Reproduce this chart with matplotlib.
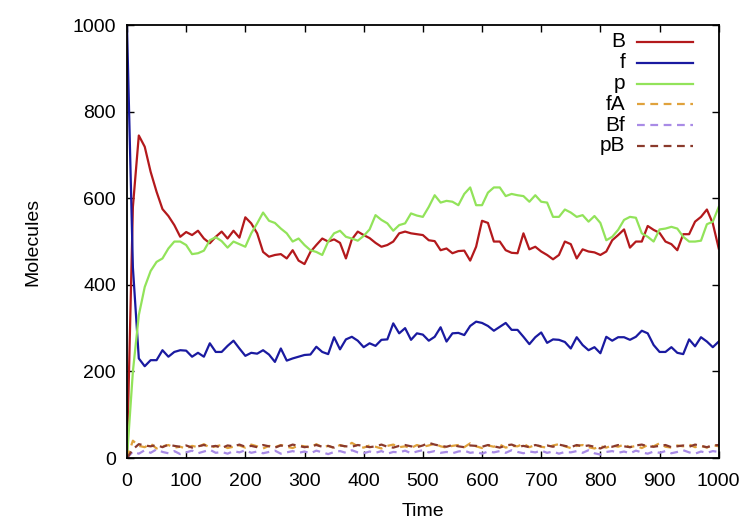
import matplotlib
matplotlib.use("Agg")
import matplotlib.pyplot as plt

plt.rcParams['font.family'] = ['Liberation Sans', 'DejaVu Sans']

# time axis (samples every 10 time units)
time = list(range(0, 1001, 10))

B = [0, 580, 745, 719, 661, 615, 575, 559, 538, 511,
     522, 515, 525, 507, 496, 511, 523, 507, 525, 509,
     556, 542, 519, 476, 465, 469, 471, 461, 480, 456,
     448, 476, 492, 507, 500, 505, 497, 461, 505, 523,
     515, 508, 497, 488, 492, 500, 519, 523, 519, 517,
     515, 503, 501, 480, 484, 473, 478, 479, 456, 488,
     548, 543, 500, 500, 480, 474, 473, 519, 482, 488,
     477, 469, 459, 469, 500, 494, 461, 482, 477, 475,
     469, 477, 503, 515, 528, 486, 500, 500, 536, 527,
     520, 500, 494, 480, 517, 517, 546, 557, 574, 542,
     484]

f = [1000, 440, 230, 212, 226, 226, 249, 234, 245, 249,
     248, 234, 243, 234, 265, 245, 245, 259, 271, 253,
     236, 243, 241, 249, 239, 222, 253, 225, 230, 234,
     238, 239, 257, 245, 240, 279, 251, 274, 280, 271,
     256, 265, 259, 273, 274, 311, 288, 300, 273, 288,
     285, 271, 280, 302, 269, 288, 289, 284, 305, 315,
     312, 305, 294, 303, 312, 296, 296, 280, 263, 279,
     290, 266, 274, 273, 268, 253, 279, 261, 249, 256,
     242, 280, 271, 279, 279, 273, 280, 294, 288, 261,
     245, 245, 256, 243, 240, 274, 258, 279, 269, 256,
     269]

p = [0, 200, 330, 395, 432, 453, 461, 484, 500, 500,
     492, 471, 473, 479, 503, 510, 501, 486, 500, 494,
     488, 519, 542, 567, 548, 543, 530, 519, 500, 507,
     492, 480, 476, 469, 500, 519, 525, 511, 507, 502,
     513, 528, 561, 550, 542, 525, 538, 542, 565, 560,
     557, 580, 607, 590, 594, 592, 584, 610, 625, 584,
     584, 613, 625, 625, 605, 610, 607, 605, 592, 607,
     592, 590, 557, 557, 574, 567, 557, 561, 546, 559,
     543, 503, 511, 527, 550, 557, 555, 519, 511, 500,
     528, 530, 534, 530, 511, 500, 500, 502, 540, 546,
     580]

fA = [0, 40, 28, 25, 33, 22, 27, 30, 24, 26,
      22, 28, 25, 32, 24, 27, 30, 23, 26, 29,
      24, 31, 27, 22, 28, 25, 30, 26, 23, 29,
      27, 24, 32, 25, 28, 23, 30, 26, 35, 27,
      24, 29, 26, 22, 28, 31, 25, 27, 23, 30,
      26, 29, 33, 27, 24, 28, 30, 25, 34, 27,
      23, 29, 26, 31, 24, 28, 27, 33, 25, 30,
      26, 24, 29, 32, 27, 23, 28, 30, 25, 22,
      27, 24, 29, 26, 31, 25, 28, 23, 30, 27,
      34, 26, 24, 29, 27, 31, 25, 28, 24, 30,
      27]

Bf = [0, 15, 10, 18, 12, 20, 14, 11, 16, 9,
      13, 17, 11, 15, 19, 12, 14, 10, 16, 13,
      18, 12, 15, 11, 14, 17, 10, 13, 16, 12,
      15, 11, 17, 13, 9, 14, 16, 12, 18, 13,
      11, 15, 12, 16, 10, 14, 13, 17, 11, 15,
      18, 13, 16, 12, 14, 11, 15, 17, 12, 14,
      10, 15, 13, 16, 12, 18, 14, 11, 15, 13,
      17, 12, 15, 10, 14, 13, 16, 12, 18, 11,
      8, 14, 16, 12, 15, 11, 17, 13, 10, 15,
      12, 16, 11, 14, 18, 13, 10, 15, 12, 16,
      14]

pB = [0, 20, 32, 29, 27, 30, 25, 31, 28, 26,
      29, 24, 27, 30, 26, 28, 23, 29, 27, 31,
      26, 28, 25, 30, 27, 24, 29, 26, 31, 28,
      25, 27, 30, 26, 28, 24, 29, 27, 26, 30,
      28, 25, 27, 31, 26, 24, 28, 30, 27, 25,
      29, 35, 31, 28, 26, 30, 27, 25, 29, 28,
      26, 30, 27, 24, 29, 31, 26, 28, 25, 30,
      27, 29, 26, 31, 28, 25, 30, 27, 29, 26,
      22, 28, 26, 30, 27, 25, 29, 31, 27, 26,
      28, 30, 25, 27, 29, 26, 31, 28, 25, 29,
      30]

names = ['B', 'f', 'p', 'fA', 'Bf', 'pB']
series = [B, f, p, fA, Bf, pB]
colors = ['#b3191c', '#1a1aa0', '#92e35a', '#e0a23c', '#a98be6', '#8a3a2c']
dashed = [False, False, False, True, True, True]

fig = plt.figure(figsize=(7.5, 5.25), dpi=100)
ax = fig.add_axes([0.1693, 0.1276, 0.789, 0.8246])

dash = (0, (3.5, 2.5))
for name, vals, c, d in zip(names, series, colors, dashed):
    ax.plot(time, vals, color=c, lw=1.6, ls=dash if d else '-')

ax.set_xlim(0, 1000)
ax.set_ylim(0, 1000)
ax.set_xticks(range(0, 1001, 100))
ax.set_yticks(range(0, 1001, 200))
ax.tick_params(direction='in', top=True, right=True, length=5, width=1,
               labelsize=14)
ax.tick_params(axis='x', pad=11)
ax.tick_params(axis='y', pad=8)
for s in ax.spines.values():
    s.set_linewidth(1.3)

ax.set_xlabel('Time', fontsize=14, labelpad=9)
ax.set_ylabel('Molecules', fontsize=14, labelpad=22)

# key in the top right, label to the left of the line sample
y0, dy = 0.961, 0.048
for i, (name, c, d) in enumerate(zip(names, colors, dashed)):
    y = y0 - i * dy
    ax.text(0.842, y, name, transform=ax.transAxes, ha='right', va='center',
            fontsize=15)
    ax.plot([0.862, 0.957], [y, y], transform=ax.transAxes, color=c,
            lw=1.6, ls=dash if d else '-')

fig.savefig('out.png', dpi=100)
